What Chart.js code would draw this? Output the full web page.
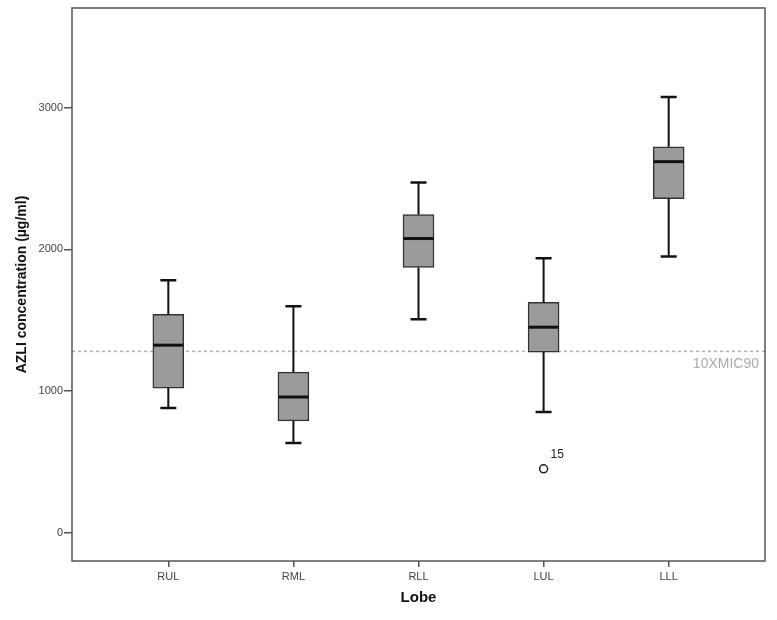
<!DOCTYPE html>
<html>
<head>
<meta charset="utf-8">
<script src="https://cdn.jsdelivr.net/npm/chart.js@4.4.0/dist/chart.umd.min.js"></script>
<style>
  html, body { margin:0; padding:0; background:#fff; }
  #wrap { width:777px; height:620px; }
</style>
</head>
<body>
<div id="wrap"><canvas id="boxChart" width="777" height="620"></canvas></div>
<script>
// lobes and box stats (ug/ml)
const lobes = ["RUL", "RML", "RLL", "LUL", "LLL"];
const whiskerLow  = [880, 634, 1507, 852, 1951];
const q1          = [1021, 789, 1873, 1275, 2359];
const median      = [1324, 958, 2077, 1451, 2620];
const q3          = [1542, 1134, 2246, 1627, 2725];
const whiskerHigh = [1782, 1599, 2472, 1937, 3077];

// outliers
const outlierLobe  = [3];
const outlierValue = [451];
const outlierId    = ["15"];

const yTicks = [0, 1000, 2000, 3000];
const micLine = 1280;
const micLabel = "10XMIC90";

const fontFam = "'Liberation Sans', Arial, sans-serif";

// whiskers, medians, reference line, frame
const boxExtras = {
  id: "boxExtras",
  beforeDatasetsDraw(chart) {
    const {ctx, chartArea, scales} = chart;
    const y = scales.y.getPixelForValue(micLine);
    ctx.save();
    ctx.strokeStyle = "#b0b0b0";
    ctx.lineWidth = 1.5;
    ctx.setLineDash([3, 3]);
    ctx.beginPath();
    ctx.moveTo(chartArea.left, y);
    ctx.lineTo(chartArea.right, y);
    ctx.stroke();
    ctx.setLineDash([]);
    ctx.fillStyle = "#aaaaaa";
    ctx.font = "14px " + fontFam;
    ctx.textAlign = "right";
    ctx.textBaseline = "middle";
    ctx.fillText(micLabel, chartArea.right - 6, y + 13);
    ctx.restore();
  },
  afterDatasetsDraw(chart) {
    const {ctx, chartArea, scales} = chart;
    const xs = scales.x, ys = scales.y;
    ctx.save();
    ctx.strokeStyle = "#111";
    lobes.forEach((l, i) => {
      const x = xs.getPixelForValue(i);
      const cap = 8;
      ctx.lineWidth = 2;
      ctx.beginPath();
      ctx.moveTo(x, ys.getPixelForValue(q3[i]));
      ctx.lineTo(x, ys.getPixelForValue(whiskerHigh[i]));
      ctx.moveTo(x, ys.getPixelForValue(q1[i]));
      ctx.lineTo(x, ys.getPixelForValue(whiskerLow[i]));
      ctx.stroke();
      ctx.lineWidth = 2.5;
      ctx.beginPath();
      ctx.moveTo(x - cap, ys.getPixelForValue(whiskerHigh[i]));
      ctx.lineTo(x + cap, ys.getPixelForValue(whiskerHigh[i]));
      ctx.moveTo(x - cap, ys.getPixelForValue(whiskerLow[i]));
      ctx.lineTo(x + cap, ys.getPixelForValue(whiskerLow[i]));
      ctx.stroke();
      ctx.lineWidth = 3;
      ctx.beginPath();
      ctx.moveTo(x - 15, ys.getPixelForValue(median[i]));
      ctx.lineTo(x + 15, ys.getPixelForValue(median[i]));
      ctx.stroke();
    });
    // outlier ids
    ctx.fillStyle = "#222";
    ctx.font = "12px " + fontFam;
    ctx.textAlign = "left";
    ctx.textBaseline = "middle";
    outlierLobe.forEach((li, k) => {
      ctx.fillText(outlierId[k], xs.getPixelForValue(li) + 7, ys.getPixelForValue(outlierValue[k]) - 14);
    });
    // frame
    ctx.strokeStyle = "#555";
    ctx.lineWidth = 1.5;
    ctx.strokeRect(chartArea.left, chartArea.top, chartArea.right - chartArea.left, chartArea.bottom - chartArea.top);
    ctx.restore();
  }
};

new Chart(document.getElementById("boxChart"), {
  type: "bar",
  data: {
    datasets: [{
      type: "bar",
      data: lobes.map((l, i) => ({x: i, y: [q1[i], q3[i]]})),
      backgroundColor: "#9b9b9b",
      borderColor: "#333",
      borderWidth: 1.5,
      borderSkipped: false,
      barThickness: 31,
      order: 2
    }, {
      type: "scatter",
      data: outlierLobe.map((li, k) => ({x: li, y: outlierValue[k]})),
      pointRadius: 4,
      pointBackgroundColor: "#fff",
      pointBorderColor: "#222",
      pointBorderWidth: 1.5,
      order: 1
    }]
  },
  options: {
    responsive: false,
    animation: false,
    layout: { padding: { left: 0, right: 12, top: 8, bottom: 0 } },
    plugins: { legend: { display: false }, tooltip: { enabled: false } },
    scales: {
      x: {
        type: "linear",
        min: -0.77,
        max: 4.77,
        offset: false,
        afterBuildTicks: s => { s.ticks = lobes.map((l, i) => ({value: i})); },
        afterFit: s => { s.height = 59; },
        grid: { offset: false, drawOnChartArea: false, drawTicks: true, tickLength: 6, color: "#555", lineWidth: 1.5 },
        border: { display: false },
        ticks: {
          callback: v => lobes[v],
          color: "#444",
          padding: 3,
          font: { family: fontFam, size: 11 }
        },
        title: {
          display: true,
          text: "Lobe",
          color: "#111",
          font: { family: fontFam, size: 15, weight: "bold" },
          padding: { top: 0, bottom: 13 }
        }
      },
      y: {
        min: -200,
        max: 3705,
        afterBuildTicks: s => { s.ticks = yTicks.map(v => ({value: v})); },
        afterFit: s => { s.width = 72; },
        grid: { drawOnChartArea: false, drawTicks: true, tickLength: 8, color: "#555", lineWidth: 1.5 },
        border: { display: false },
        ticks: {
          callback: v => String(v),
          color: "#444",
          padding: 1,
          font: { family: fontFam, size: 11 }
        },
        title: {
          display: true,
          text: "AZLI concentration (µg/ml)",
          color: "#111",
          font: { family: fontFam, size: 14, weight: "bold" },
          padding: { top: 14, bottom: 0 }
        }
      }
    }
  },
  plugins: [boxExtras]
});
</script>
</body>
</html>
